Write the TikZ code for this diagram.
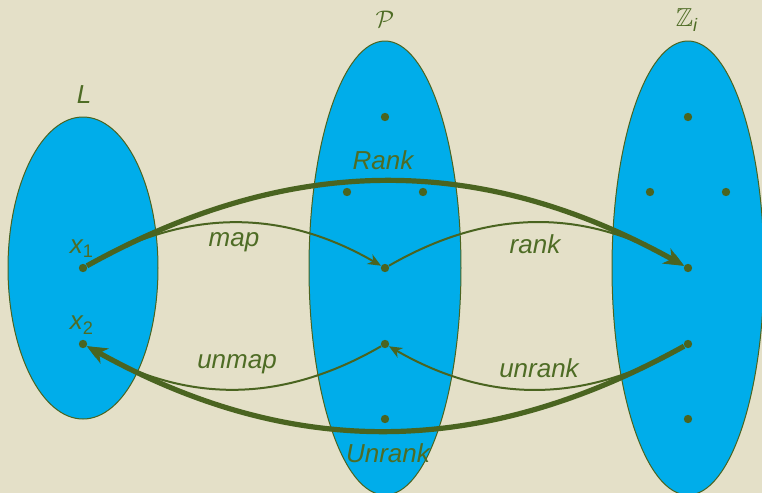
\documentclass[tikz,border=0pt]{standalone}
\usepackage{fontspec}
\usepackage{amssymb}
\setmainfont{Liberation Sans}
\usetikzlibrary{arrows.meta}
\definecolor{bgcol}{HTML}{E4E0C8}
\definecolor{setcol}{HTML}{00ADEA}
\definecolor{lncol}{HTML}{4A6420}
\definecolor{txcol}{HTML}{4E6C25}
\tikzset{
  setshape/.style={draw=lncol, line width=0.5pt, fill=setcol},
  elem/.style={circle, fill=lncol, inner sep=0pt, minimum size=4.2pt},
  lbl/.style={text=txcol, font=\fontsize{13}{15}\selectfont\itshape, inner sep=0pt},
  setlbl/.style={text=txcol, font=\fontsize{13}{15}\selectfont, inner sep=0pt},
  thinarr/.style={draw=lncol, line width=1pt, -{Stealth[length=6.5pt, width=5.5pt, inset=2pt]}},
  thickarr/.style={draw=lncol, line width=2.6pt, -{Stealth[length=10pt, width=8.5pt, inset=3pt]}},
}
\begin{document}
\begin{tikzpicture}[x=0.5pt, y=-0.5pt]
\useasboundingbox (0,0) rectangle (762,493);
\fill[bgcol] (0,0) rectangle (762,493);
% sets
\draw[setshape] (83,268) ellipse [x radius=75, y radius=151];
\draw[setshape] (385,268) ellipse [x radius=76, y radius=227];
\draw[setshape] (688,268) ellipse [x radius=76, y radius=227];
% labels of sets
\node[lbl] (lL) at (84,95) {L};
\node[setlbl] (lP) at (385,19) {$\mathcal{P}$};
\node[setlbl] (lZ) at (687,20) {$\mathbb{Z}_{\mbox{\fontsize{9}{10}\selectfont\itshape i}}$};
% elements
\node[elem] (x1) at (83,268) {};
\node[elem] (x2) at (83,344) {};
\node[elem] (p1) at (385,117) {};
\node[elem] (p2) at (347,192) {};
\node[elem] (p3) at (423,192) {};
\node[elem] (p4) at (385,268) {};
\node[elem] (p5) at (385,344) {};
\node[elem] (p6) at (385,419) {};
\node[elem] (z1) at (688,117) {};
\node[elem] (z2) at (650,192) {};
\node[elem] (z3) at (726,192) {};
\node[elem] (z4) at (688,268) {};
\node[elem] (z5) at (688,344) {};
\node[elem] (z6) at (688,419) {};
\node[lbl] (lx1) at (82,249) {x\textsubscript{\upshape 1}};
\node[lbl] (lx2) at (82,325) {x\textsubscript{\upshape 2}};
% thin arrows
\draw[thinarr] (x1) to[bend left=30] (p4);
\draw[thinarr] (p4) to[bend left=30] (z4);
\draw[thinarr] (z5) to[bend left=30] (p5);
\draw[thinarr] (p5) to[bend left=30] (x2);
% thick arrows
\draw[thickarr] (x1) to[bend left=29] (z4);
\draw[thickarr] (z5) to[bend left=29] (x2);
% arrow labels
\node[lbl] (tRank) at (383,160) {Rank};
\node[lbl] (tmap) at (234,242) {map};
\node[lbl] (trank) at (535,244) {rank};
\node[lbl] (tunmap) at (237,364) {unmap};
\node[lbl] (tunrank) at (539,368) {unrank};
\node[lbl] (tUnrank) at (388,453) {Unrank};
\end{tikzpicture}
\end{document}
